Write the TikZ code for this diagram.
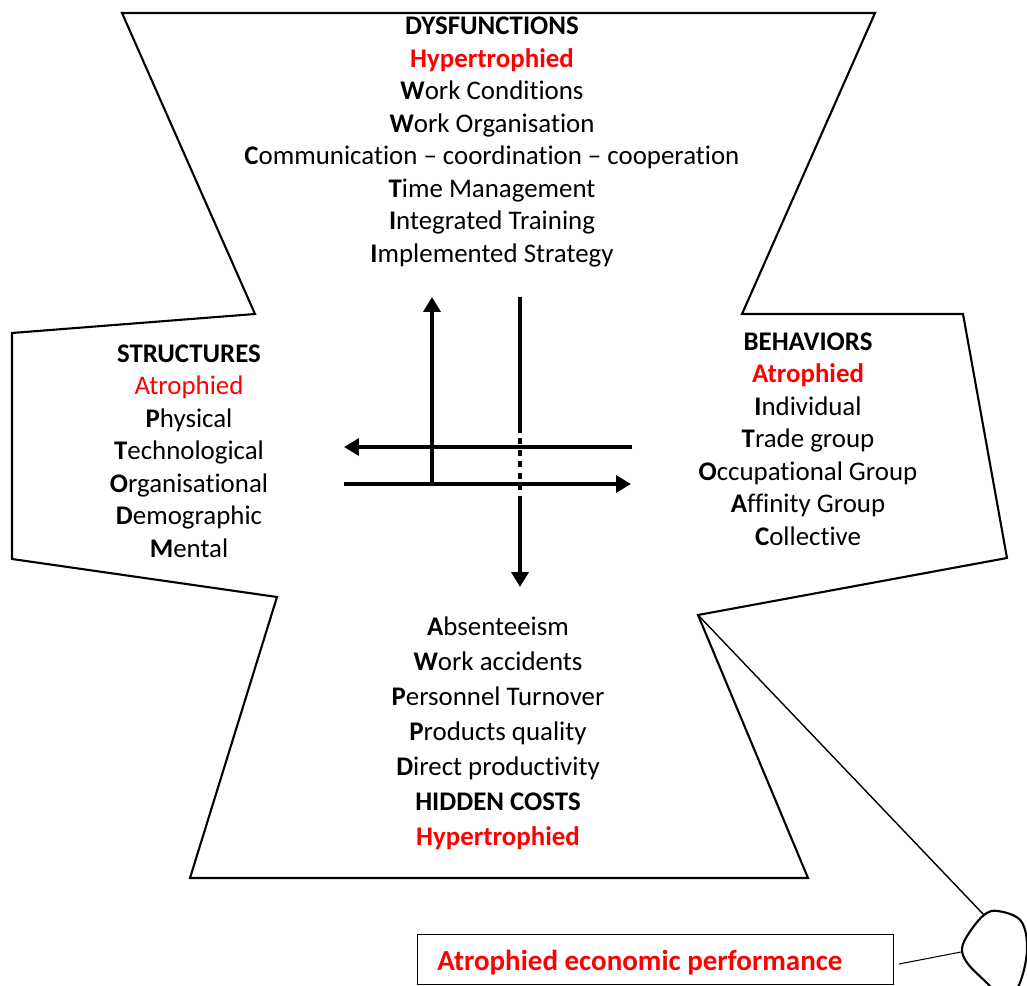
\documentclass[tikz,border=0pt]{standalone}
\usepackage{fontspec}
\setmainfont{Carlito}[Ligatures=NoCommon]
\usetikzlibrary{arrows.meta}
\begin{document}
\begin{tikzpicture}[x=0.02cm,y=-0.02cm,
  outline/.style={line width=1.2pt, line join=miter},
  thinline/.style={line width=0.8pt},
  flow/.style={line width=2.4pt},
  tipped/.style={-{Triangle[length=8.5pt,width=9.6pt]}},
  dotted flow/.style={line width=2.4pt, dash pattern=on 0.12cm off 0.11cm},
  block/.style={align=center, inner sep=0pt, font=\fontsize{15.3}{18.5}\selectfont},
  lowblock/.style={align=center, inner sep=0pt, font=\fontsize{15.3}{19.9}\selectfont}
]
\clip (0,0) rectangle (1027,986);
\useasboundingbox (0,0) rectangle (1027,986);

% outline of the four-lobed frame
\draw[outline] (122,13) -- (875,13) -- (742,314) -- (963,314) -- (1007,558)
  -- (698,615) -- (808,878) -- (190,878) -- (277,597) -- (12,559)
  -- (12,333) -- (255,314) -- cycle;

% callout tail and its rounded end
\coordinate (tailroot) at (698,615);
\coordinate (tailend) at (984,915);
\draw[thinline] (tailroot) -- (tailend);
\draw[line width=1.2pt] plot[smooth cycle, tension=0.6] coordinates
  {(984,915) (998,911) (1021,921) (1027,950) (1019,985) (1004,1000) (988,984) (968,964) (962,949) (969,933)};
\coordinate (blobwest) at (961,952);

% text blocks
\node[block] (dys) at (492,142) {\textbf{DYSFUNCTIONS}\\
  \textcolor{red}{\textbf{Hypertrophied}}\\
  \textbf{W}ork Conditions\\
  \textbf{W}ork Organisation\\
  \textbf{C}ommunication – coordination – cooperation\\
  \textbf{T}ime Management\\
  \textbf{I}ntegrated Training\\
  \textbf{I}mplemented Strategy};

\node[block] (str) at (189,451) {\textbf{STRUCTURES}\\
  \textcolor{red}{Atrophied}\\
  \textbf{P}hysical\\
  \textbf{T}echnological\\
  \textbf{O}rganisational\\
  \textbf{D}emographic\\
  \textbf{M}ental};

\node[block] (beh) at (808,439) {\textbf{BEHAVIORS}\\
  \textcolor{red}{\textbf{Atrophied}}\\
  \textbf{I}ndividual\\
  \textbf{T}rade group\\
  \textbf{O}ccupational Group\\
  \textbf{A}ffinity Group\\
  \textbf{C}ollective};

\node[lowblock] (hid) at (498,733) {\textbf{A}bsenteeism\\
  \textbf{W}ork accidents\\
  \textbf{P}ersonnel Turnover\\
  \textbf{P}roducts quality\\
  \textbf{D}irect productivity\\
  \textbf{HIDDEN COSTS}\\
  \textcolor{red}{\textbf{Hypertrophied}}};

% central arrows
\coordinate (upfoot) at (432,484);
\coordinate (uptip) at (432,297);
\coordinate (downtop) at (520,297);
\coordinate (dotstart) at (520,427);
\coordinate (dotend) at (520,500);
\coordinate (downtip) at (520,587);
\coordinate (leftstart) at (632,447);
\coordinate (lefttip) at (344,447);
\coordinate (rightstart) at (344,484);
\coordinate (righttip) at (631,484);

\draw[flow] (downtop) -- (dotstart);
\draw[dotted flow] (dotstart) -- (dotend);
\draw[flow,tipped] (dotend) -- (downtip);
\draw[flow,tipped] (leftstart) -- (lefttip);
\draw[flow,tipped] (rightstart) -- (righttip);
\draw[flow,tipped] (upfoot) -- (uptip);

% economic performance box
\node[draw, line width=0.6pt, anchor=north west, minimum width=9.52cm,
  minimum height=1.0cm, inner sep=0pt] (perfbox) at (417,934) {};
\node[anchor=west, inner sep=0pt, text=red,
  font=\fontsize{16.5}{20}\selectfont\bfseries] (perf) at (437,963) {Atrophied economic performance};
\coordinate (perfout) at (899,964);
\draw[line width=0.6pt] (perfout) -- (blobwest);
\end{tikzpicture}
\end{document}
